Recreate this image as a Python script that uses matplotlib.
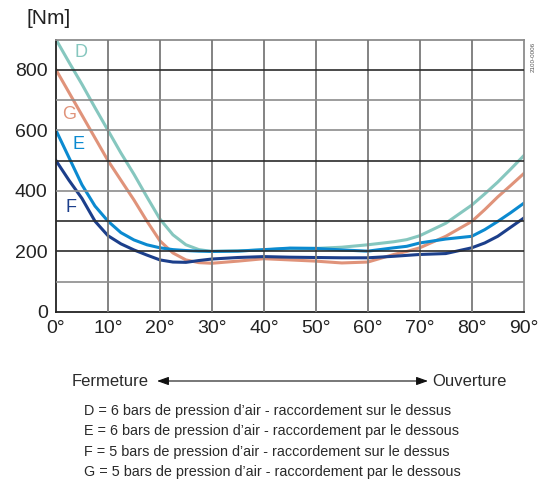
import matplotlib
matplotlib.use('Agg')
import matplotlib.pyplot as plt
from matplotlib.patches import FancyArrowPatch

plt.rcParams['font.family'] = ['Liberation Sans', 'DejaVu Sans']

# angle in degrees, torque in Nm
angles = [0, 2.5, 5, 7.5, 10, 12.5, 15, 17.5, 20, 22.5, 25, 27.5, 30, 35, 40, 45,
          50, 55, 60, 65, 67.5, 70, 75, 80, 82.5, 85, 87.5, 90]
d_vals = [900, 825, 752, 675, 600, 525, 455, 380, 307, 255, 222, 206, 200, 202, 205, 210,
          210, 214, 222, 232, 239, 252, 293, 353, 390, 429, 472, 516]
g_vals = [800, 725, 650, 575, 500, 435, 370, 300, 235, 195, 172, 163, 161, 168, 176, 172,
          168, 162, 165, 190, 200, 212, 250, 299, 338, 380, 418, 457]
e_vals = [600, 510, 420, 350, 300, 262, 238, 222, 212, 206, 203, 201, 200, 201, 206, 211,
          210, 205, 201, 212, 217, 228, 241, 250, 272, 299, 328, 359]
f_vals = [500, 435, 375, 300, 252, 225, 205, 188, 172, 165, 164, 170, 175, 180, 183, 181,
          180, 179, 179, 184, 187, 190, 193, 212, 228, 250, 280, 310]

series = [('D', d_vals, '#86c7bf', (3.6, 858)),
          ('G', g_vals, '#e0937a', (1.1, 653)),
          ('E', e_vals, '#0b8ad0', (3.2, 553)),
          ('F', f_vals, '#1c3f8b', (1.8, 344))]

legend_lines = [
    "D = 6 bars de pression d\u2019air - raccordement sur le dessus",
    "E = 6 bars de pression d\u2019air - raccordement par le dessous",
    "F = 5 bars de pression d\u2019air - raccordement sur le dessus",
    "G = 5 bars de pression d\u2019air - raccordement par le dessous",
]

W, H = 541, 483
fig = plt.figure(figsize=(W / 100, H / 100), dpi=100)
ax = fig.add_axes([56 / W, 1 - 312 / H, (523.7 - 56) / W, (312 - 39.5) / H])

ax.set_xlim(0, 90)
ax.set_ylim(0, 900)

# grid
for xv in range(10, 90, 10):
    ax.axvline(xv, color='#7a7a7a', lw=1.3, zorder=3)
dark = [200, 300, 500, 800]
for yv in range(100, 900, 100):
    c = '#2b2b2b' if yv in dark else '#8c8c8c'
    ax.axhline(yv, color=c, lw=1.2, zorder=3)

for name, vals, col, pos in series:
    ax.plot(angles, vals, color=col, lw=2.2, solid_joinstyle='round', zorder=2)
    ax.text(pos[0], pos[1], name, color=col, fontsize=13, ha='left', va='center')

ax.spines['left'].set_color('#222222')
ax.spines['bottom'].set_color('#222222')
ax.spines['right'].set_color('#8c8c8c')
ax.spines['top'].set_color('#8c8c8c')
for s in ax.spines.values():
    s.set_linewidth(1.3)

ax.set_xticks(range(0, 91, 10))
ax.set_xticklabels(['%d\u00b0' % a for a in range(0, 91, 10)], fontsize=14)
ax.set_yticks(range(0, 900, 200))
ax.set_yticklabels([str(v) for v in range(0, 900, 200)], fontsize=14)
ax.tick_params(length=0, pad=6, colors='#222222')

fig.text(26 / W, 1 - 18 / H, '[Nm]', fontsize=15, ha='left', va='center', color='#222222')
fig.text(533 / W, 1 - 57 / H, '2100-0006', fontsize=4.5, rotation=90,
         ha='center', va='center', color='#555555')

# direction arrow
fig.text(72 / W, 1 - 381 / H, 'Fermeture', fontsize=12, ha='left', va='center', color='#2a2a2a')
fig.text(432 / W, 1 - 381 / H, 'Ouverture', fontsize=12, ha='left', va='center', color='#2a2a2a')
arr = FancyArrowPatch((157 / W, 1 - 381 / H), (428 / W, 1 - 381 / H),
                      transform=fig.transFigure, arrowstyle='<|-|>,head_length=7,head_width=2.5',
                      color='#111111', lw=0.8, shrinkA=0, shrinkB=0)
fig.patches.append(arr)

for i, line in enumerate(legend_lines):
    fig.text(84 / W, 1 - (411 + i * 20.3) / H, line, fontsize=10.4, ha='left', va='center',
             color='#2a2a2a')

fig.savefig('out.png', dpi=100)
